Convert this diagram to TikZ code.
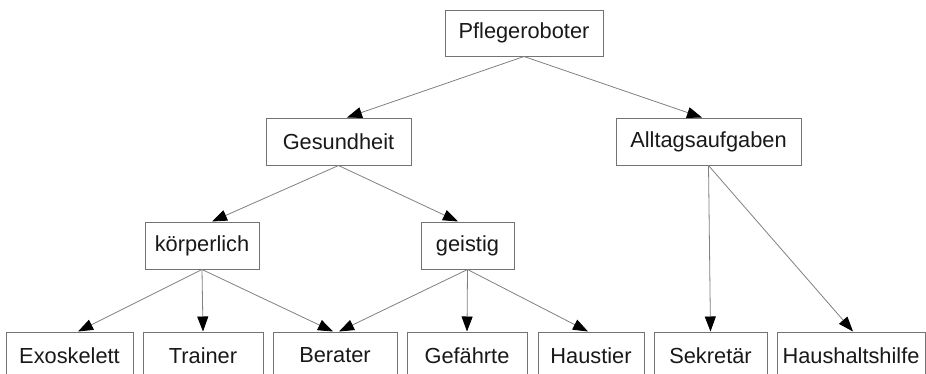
\documentclass[tikz,border=0pt]{standalone}
\usepackage{fontspec}
\setmainfont{Liberation Sans}
\usepackage{tikz}
\usetikzlibrary{arrows.meta,positioning}

\begin{document}
\begin{tikzpicture}[x=1pt, y=-1pt, font=\fontsize{21.8}{26}\selectfont]
\tikzstyle{box}=[rectangle, draw=black!55, line width=1pt, inner sep=0pt, minimum height=47pt, text=black!90, fill=white]
\tikzstyle{arr}=[draw=black!50, line width=0.8pt, -{Triangle[length=15pt, width=11pt, color=black]}]
\useasboundingbox (0,0) rectangle (926,373);
\clip (0,0) rectangle (926,373);
\node[box, minimum width=158pt, minimum height=46pt] (robot) at (524,33) {Pflegeroboter};
\node[box, minimum width=145pt] (ges) at (338.5,141.5) {Gesundheit};
\node[box, minimum width=185pt] (alltag) at (708.5,141.5) {Alltagsaufgaben};
\node[box, minimum width=114pt] (koerp) at (202,245.5) {körperlich};
\node[box, minimum width=93pt] (geist) at (467.5,245.5) {geistig};
\node[box, minimum width=127pt] (exo) at (69.5,355.5) {Exoskelett};
\node[box, minimum width=120pt] (trainer) at (203,355.5) {Trainer};
\node[box, minimum width=124pt] (berater) at (335,355.5) {Berater};
\node[box, minimum width=120pt] (gef) at (467,355.5) {Gefährte};
\node[box, minimum width=106pt] (haus) at (591,355.5) {Haustier};
\node[box, minimum width=113pt] (sek) at (710.5,355.5) {Sekretär};
\node[box, minimum width=148pt] (hilfe) at (851,355.5) {Haushaltshilfe};
\draw[arr] (robot.south) -- ([xshift=8.5pt]ges.north);
\draw[arr] (robot.south) -- ([xshift=-6.5pt]alltag.north);
\draw[arr] (ges.south) -- ([xshift=10pt]koerp.north);
\draw[arr] (ges.south) -- ([xshift=-9.5pt]geist.north);
\draw[arr] (koerp.south) -- ([xshift=8.5pt]exo.north);
\draw[arr] (koerp.south) -- (trainer.north);
\draw[arr] (koerp.south) -- ([xshift=-2pt]berater.north);
\draw[arr] (geist.south) -- ([xshift=4pt]berater.north);
\draw[arr] (geist.south) -- (gef.north);
\draw[arr] (geist.south) -- ([xshift=-3pt]haus.north);
\draw[arr] (alltag.south) -- (sek.north);
\draw[arr] (alltag.south) -- ([xshift=2pt]hilfe.north);
\end{tikzpicture}
\end{document}
